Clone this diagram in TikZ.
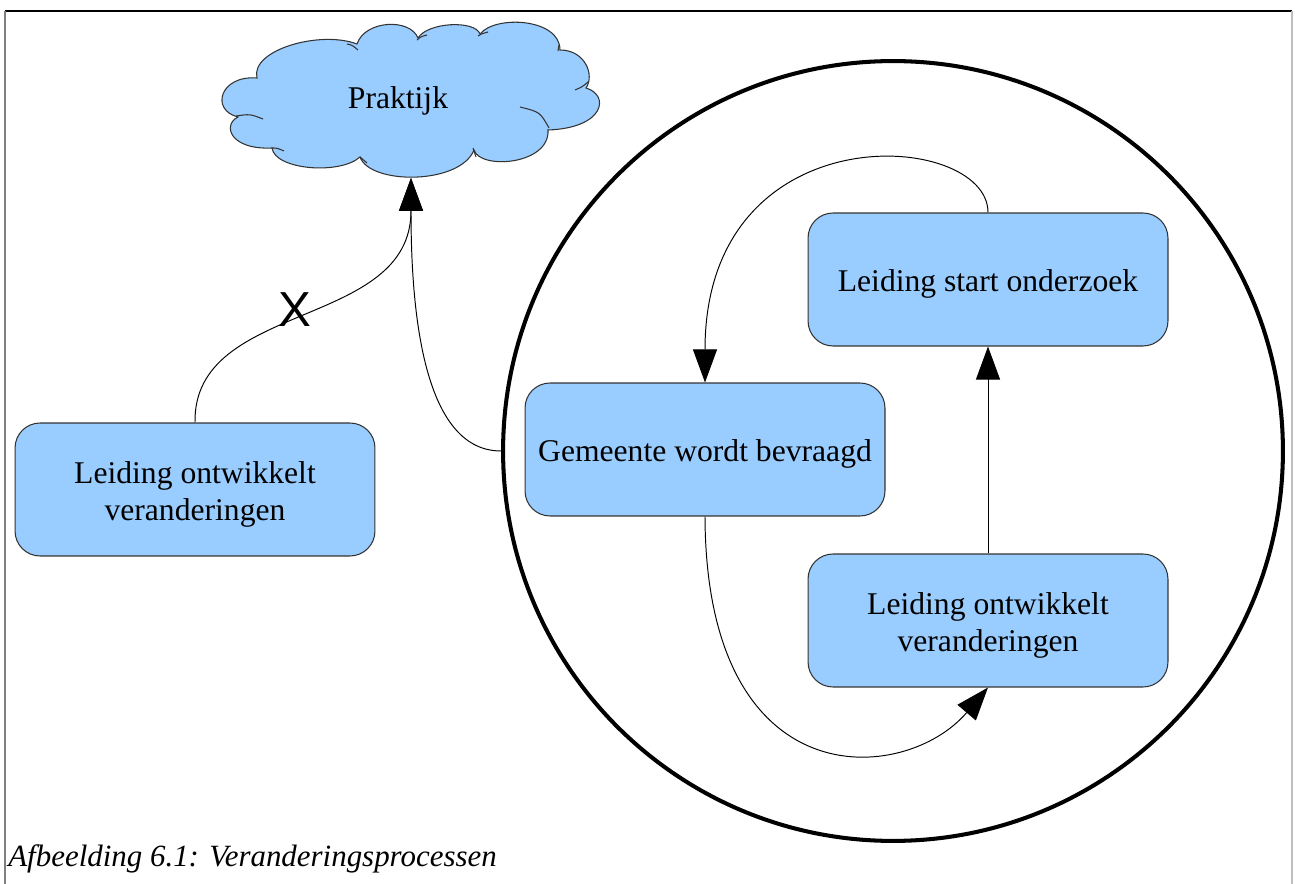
\documentclass[tikz,border=0pt]{standalone}
\usepackage{fontspec}
\setmainfont{Liberation Serif}
\newfontfamily\kruisfont{Liberation Sans}
\usetikzlibrary{arrows.meta}
\definecolor{vakblauw}{HTML}{99CCFF}
\definecolor{randgrijs}{HTML}{333333}
\newcommand\vakstrut{\rule{0pt}{0.63cm}}
\tikzset{
	vak/.style={draw=randgrijs, fill=vakblauw, rounded corners=0.5cm, minimum width=7.2cm, minimum height=2.66cm, align=center, font=\fontsize{18}{21}\selectfont, line width=0.6pt},
	verbind/.style={line width=0.55pt, -{Triangle[length=0.66cm,width=0.48cm]}},
	wolkrand/.style={draw=randgrijs, line width=0.6pt},
}

\begin{document}
\begin{tikzpicture}[x=0.02cm, y=-0.02cm]
			%%%%% START %%%%%
			\useasboundingbox (0,0) rectangle (1295,884);
			
			% kader
			\draw[line width=1pt] (5,11) -- (1292,11);
			\draw[line width=1pt, color=black!50] (5,11) -- (5,884);
			\draw[line width=1pt, color=black!25] (1292,11) -- (1292,884);
			
			% wolk
			\draw[wolkrand, fill=vakblauw] (257,78) .. controls (250,50) and (320,30) .. (357,44)
				.. controls (365,20) and (410,18) .. (418,38)
				.. controls (428,22) and (475,20) .. (480,34)
				.. controls (495,15) and (560,18) .. (560,50)
				.. controls (585,50) and (595,75) .. (586,88)
				.. controls (610,95) and (605,128) .. (548,130)
				.. controls (550,165) and (480,170) .. (474,150)
				.. controls (460,185) and (370,185) .. (360,157)
				.. controls (340,175) and (275,170) .. (272,148)
				.. controls (230,150) and (222,125) .. (238,117)
				.. controls (210,110) and (220,75) .. (257,78) -- cycle;
			\draw[wolkrand] (236,116) .. controls (250,114) .. (263,119);
			\draw[wolkrand] (272,148) .. controls (277,148) .. (284,151);
			\draw[wolkrand] (347,44) .. controls (352,45) .. (358,50);
			\draw[wolkrand] (417,40) .. controls (420,37) .. (427,35);
			\draw[wolkrand] (478,36) .. controls (481,34) .. (488,32);
			\draw[wolkrand] (558,51) -- (559,45);
			\draw[wolkrand] (575,90) .. controls (582,87) .. (588,82);
			\draw[wolkrand] (520,107) .. controls (540,112) .. (549,128);
			\draw[wolkrand] (473,148) .. controls (475,152) .. (476,157);
			\draw[wolkrand] (360,157) .. controls (363,160) .. (367,163);
			\coordinate (wolkpunt) at (411,178);
			\node[font=\fontsize{18}{21}\selectfont] (praktijk) at (398,101) {Praktijk};
			
			\node[circle, draw, line width=2.3pt, minimum size=15.6cm, inner sep=0pt] (kring) at (893,451) {};
			
			\node[vak] (leiding) at (195,489.5) {\vakstrut Leiding ontwikkelt\\veranderingen};
			\node[vak] (gemeente) at (705,449.5) {\vakstrut Gemeente wordt bevraagd};
			\node[vak] (onderzoek) at (988,279.5) {\vakstrut Leiding start onderzoek};
			\node[vak] (ontwikkelt) at (988,620.5) {\vakstrut Leiding ontwikkelt\\veranderingen};
			
			\draw[verbind] (leiding.north) .. controls (193,300) and (411,330) .. (wolkpunt);
			\draw[verbind] (kring.west) .. controls (420,451) and (411,300) .. (wolkpunt);
			\node[font=\kruisfont\fontsize{28}{28}\selectfont] (kruis) at (295,310) {X};
			
			\draw[verbind] (gemeente.south) .. controls (706,800) and (905,785) .. (ontwikkelt.south);
			\draw[verbind] (ontwikkelt.north) -- (onderzoek.south);
			\draw[verbind] (onderzoek.north) .. controls (988,130) and (705,110) .. (gemeente.north);
			
			\node[anchor=base west, inner sep=0pt, font=\fontsize{17.6}{20}\selectfont\itshape] (onderschrift) at (8,866) {Afbeelding 6.1: Veranderingsprocessen};
			%%%%% END %%%%%
\end{tikzpicture}
\end{document}
